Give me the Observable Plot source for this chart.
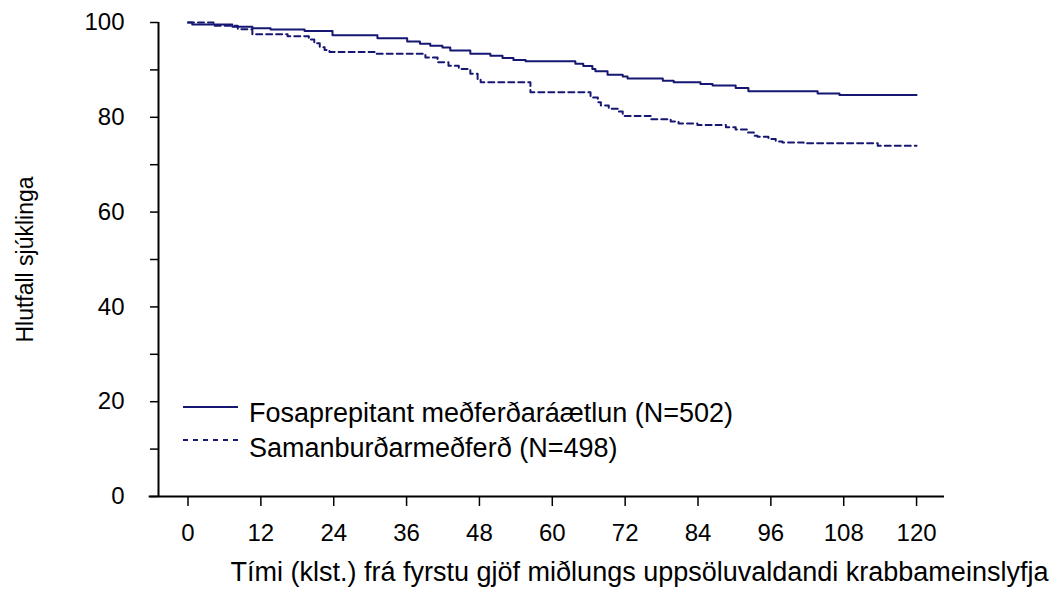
<!DOCTYPE html>
<html>
<head>
<meta charset="utf-8">
<script src="https://cdn.jsdelivr.net/npm/d3@7"></script>
<script src="https://cdn.jsdelivr.net/npm/@observablehq/plot@0.6"></script>
<style>
  html, body { margin: 0; padding: 0; background: #fff; }
  #chart { width: 1050px; height: 590px; }
</style>
</head>
<body>
<div id="chart"></div>
<script>
// ---- data ----
const seriesNames = ["Fosaprepitant meðferðaráætlun (N=502)", "Samanburðarmeðferð (N=498)"];
const fosaTime = [0, 0.7, 7.3, 10.6, 13.6, 19.2, 23.8, 31.2, 36.1, 38.2, 39.9, 41.9, 43.2, 46.5, 49.8, 51.8, 53.6, 55.6, 63.8, 65.1, 66.6, 67.1, 69.1, 71.6, 72.4, 78.2, 80.0, 84.4, 86.4, 90.2, 92.3, 103.7, 107.3, 120];
const fosaPct  = [100, 99.6, 99.1, 98.8, 98.5, 98.2, 97.3, 96.7, 96.0, 95.5, 95.1, 94.7, 94.1, 93.4, 93.0, 92.5, 92.1, 91.8, 91.3, 90.8, 90.2, 89.7, 89.0, 88.6, 88.2, 87.7, 87.4, 87.0, 86.7, 86.2, 85.5, 85.0, 84.7, 84.7];
const compTime = [0, 4.2, 8.2, 10.6, 16.4, 19.9, 20.8, 21.7, 22.5, 23.3, 31.0, 39.1, 41.1, 42.9, 44.6, 46.5, 47.7, 48.2, 56.4, 66.3, 67.5, 68.0, 69.3, 70.8, 71.6, 76.2, 79.5, 80.8, 83.9, 88.6, 90.2, 92.2, 93.2, 93.8, 95.6, 96.8, 97.9, 101.4, 113.6, 120];
const compPct  = [100, 99.3, 98.6, 97.5, 97.1, 96.4, 95.6, 94.8, 94.2, 93.8, 93.4, 92.6, 91.6, 90.9, 90.2, 89.2, 87.9, 87.4, 85.3, 84.2, 83.2, 82.5, 81.8, 81.2, 80.3, 79.6, 79.1, 78.7, 78.4, 77.9, 77.4, 76.8, 76.1, 75.9, 75.4, 74.9, 74.7, 74.5, 74.0, 74.0];
const xTicks = [0, 12, 24, 36, 48, 60, 72, 84, 96, 108, 120];
const yTicks = [0, 20, 40, 60, 80, 100];
const yMinorTicks = [10, 30, 50, 70, 90];
const xTitle = "Tími (klst.) frá fyrstu gjöf miðlungs uppsöluvaldandi krabbameinslyfja";
const yTitle = "Hlutfall sjúklinga";

// ---- build ----
const fosa = fosaTime.map((t, i) => ({t, p: fosaPct[i]}));
const comp = compTime.map((t, i) => ({t, p: compPct[i]}));
const xMin = -4.86, xMax = 124.6, xAxisStart = -6.4;
const navy = "#161673";
const font = "'Liberation Sans', Arial, Helvetica, sans-serif";

const plot = Plot.plot({
  width: 1050,
  height: 590,
  marginLeft: 158,
  marginRight: 106,
  marginTop: 22,
  marginBottom: 94,
  x: {domain: [xMin, xMax]},
  y: {domain: [0, 100]},
  style: {fontFamily: font, fontSize: "24px", color: "black", background: "white"},
  marks: [
    Plot.axisY({ticks: yTicks, tickSize: 8, tickPadding: 26, strokeWidth: 1.5, label: null, fontSize: 24}),
    Plot.axisY({ticks: yMinorTicks, tickSize: 8, strokeWidth: 1.5, text: null, label: null}),
    Plot.axisX({ticks: xTicks, tickSize: 10, tickPadding: 17, strokeWidth: 1.5, label: null, fontSize: 24}),
    Plot.ruleX([xMin], {y1: 0, y2: 100, stroke: "black", strokeWidth: 2}),
    Plot.ruleY([0], {x1: xAxisStart, x2: xMax, stroke: "black", strokeWidth: 2}),
    Plot.line(fosa, {x: "t", y: "p", curve: "step-after", stroke: navy, strokeWidth: 2}),
    Plot.line(comp, {x: "t", y: "p", curve: "step-after", stroke: navy, strokeWidth: 2, strokeDasharray: "6,4"}),
    Plot.text([yTitle], {frameAnchor: "left", rotate: -90, textAnchor: "middle", lineAnchor: "middle", dx: -133, fontSize: 23, fill: "black"}),
    Plot.text([xTitle], {frameAnchor: "bottom", textAnchor: "middle", dx: 88, dy: 84, lineAnchor: "bottom", fontSize: 27, fill: "black"})
  ]
});

const svg = d3.select(plot);
// make sure tick labels are 24px
svg.selectAll('g[aria-label="x-axis tick label"] text, g[aria-label="y-axis tick label"] text')
  .attr("font-size", 24).style("font-size", "24px");

// legend inside the plot area
const lg = svg.append("g").attr("font-family", font).attr("font-size", 27)
  .style("font-size", "27px").attr("text-anchor", "start");
const legendItems = [
  {name: seriesNames[0], dash: null, y: 407, ty: 422},
  {name: seriesNames[1], dash: "5,5", y: 440, ty: 457}
];
legendItems.forEach(it => {
  lg.append("line").attr("x1", 183).attr("x2", 238).attr("y1", it.y).attr("y2", it.y)
    .attr("stroke", navy).attr("stroke-width", 2).attr("stroke-dasharray", it.dash);
  lg.append("text").attr("x", 249).attr("y", it.ty).attr("fill", "black")
    .attr("text-anchor", "start").text(it.name);
});

document.getElementById("chart").appendChild(plot);
</script>
</body>
</html>
